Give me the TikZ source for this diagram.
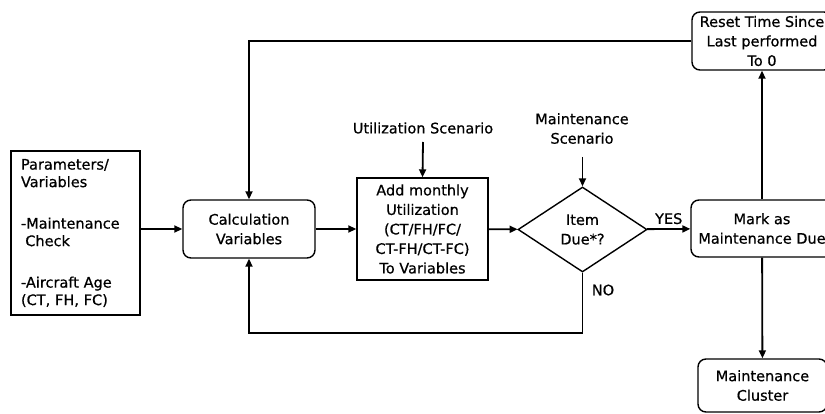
\documentclass[tikz,border=0pt]{standalone}
\usepackage{fontspec}
\setmainfont{DejaVu Sans}[FakeBold=0.6]
\usetikzlibrary{arrows.meta,shapes.geometric}
\begin{document}
\begin{tikzpicture}[x=1pt,y=-1pt,
  font=\fontsize{14.5}{19.5}\selectfont,
  box/.style={draw,line width=1.4pt,align=center,inner sep=2pt},
  rbox/.style={box,rounded corners=8pt},
  dec/.style={draw,line width=1.4pt,diamond,aspect=1.5,inner sep=0pt,align=center,
    minimum width=129pt,minimum height=85pt},
  conn/.style={line width=1.8pt},
  arr/.style={conn,-{Triangle[length=8pt,width=7pt]}},
  lbl/.style={align=center,inner sep=0pt}]
\clip (0,0) rectangle (825,414);
\fill[white] (0,0) rectangle (825,414);

% process nodes
\node[box,minimum width=129pt,minimum height=164pt,text width=109pt,align=left,
      inner xsep=10pt,font=\fontsize{14.5}{17.5}\selectfont] (params) at (75.5,233)
  {Parameters/\\Variables\\[24pt]-Maintenance\\\hspace{0.3em}Check\\[24pt]-Aircraft Age\\(CT, FH, FC)};
\node[rbox,minimum width=132pt,minimum height=58pt] (calc) at (249,229)
  {Calculation\\Variables};
\node[box,minimum width=131pt,minimum height=102pt] (add) at (422.5,229)
  {Add monthly\\Utilization\\(CT/FH/FC/\\CT-FH/CT-FC)\\To Variables};
\node[dec] (due) at (582.5,229.5) {Item\\Due*?};
\node[rbox,minimum width=142pt,minimum height=57pt] (mark) at (762,228.5)
  {Mark as\\Maintenance Due};
\node[rbox,minimum width=140pt,minimum height=58pt,inner sep=0pt] (reset) at (762,41)
  {Reset Time Since\\Last performed\\To 0};
\node[rbox,minimum width=129pt,minimum height=53pt] (cluster) at (762.5,385.5)
  {Maintenance\\Cluster};

% scenario inputs
\node[lbl] (util) at (423,128) {Utilization Scenario};
\node[lbl] (mscen) at (582,128.5) {Maintenance\\Scenario};
\coordinate (utiltop) at (423,142);
\coordinate (mscentop) at (582.5,157);

% connectors
\draw[arr] (calc.west -| params.east) -- (calc.west);
\draw[arr] (calc) -- (add);
\draw[arr] (add) -- (due);
\draw[arr] (due) -- node[lbl,above=4pt,pos=0.5] {YES} (mark);
\draw[arr] (utiltop) -- (add.north);
\draw[arr] (mscentop) -- (due.north);
\draw[arr] (mark) -- (reset);
\draw[arr] (mark) -- (cluster);
\draw[arr] (reset.west) -| (calc.north);
\coordinate (loopcorner) at (582.5,333);
\draw[arr] (due.south) -- (loopcorner) -| (calc.south);
\node[lbl] (no) at (603,290) {NO};
\end{tikzpicture}
\end{document}
